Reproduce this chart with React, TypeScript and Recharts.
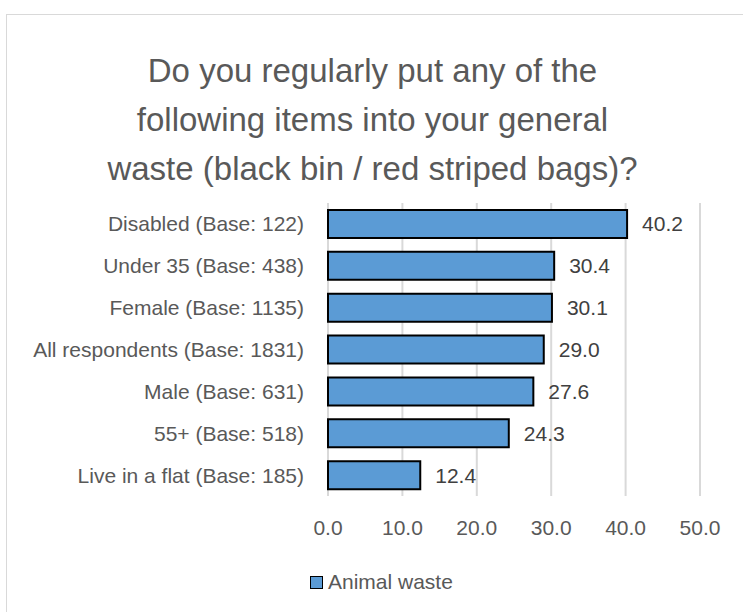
import React from 'react';
import { BarChart, Bar, XAxis, YAxis, CartesianGrid, LabelList } from 'recharts';

const categories = [
  'Disabled (Base: 122)',
  'Under 35 (Base: 438)',
  'Female (Base: 1135)',
  'All respondents (Base: 1831)',
  'Male (Base: 631)',
  '55+ (Base: 518)',
  'Live in a flat (Base: 185)',
];
const animalWaste = [40.2, 30.4, 30.1, 29.0, 27.6, 24.3, 12.4];
const xTicks = [0, 10, 20, 30, 40, 50];
const titleLines = [
  'Do you regularly put any of the',
  'following items into your general',
  'waste (black bin / red striped bags)?',
];

const data = categories.map((name, i) => ({ name, value: animalWaste[i] }));

const FONT = '"Liberation Sans", Arial, sans-serif';
const GREY = '#595959';

export default function App() {
  return (
    <div style={{ position: 'fixed', left: 0, top: 0, width: 743, height: 612, overflow: 'hidden', background: '#fff', fontFamily: FONT }}>
      {/* chart border */}
      <div style={{ position: 'absolute', left: 6, top: 14, width: 760, height: 620, border: '1px solid #d9d9d9' }} />

      {/* title */}
      {titleLines.map((t, i) => (
        <div
          key={i}
          style={{ position: 'absolute', left: 0, width: 745, top: 51 + i * 49, textAlign: 'center', fontSize: 33, color: GREY, lineHeight: '40px', whiteSpace: 'nowrap' }}
        >
          {t}
        </div>
      ))}

      <div style={{ position: 'absolute', left: 0, top: 0 }}>
        <BarChart
          width={743}
          height={612}
          data={data}
          layout="vertical"
          margin={{ top: 203, right: 43, left: 0, bottom: 66 }}
          barCategoryGap={0}
        >
          <CartesianGrid horizontal={false} stroke="#d9d9d9" strokeWidth={2} />
          <XAxis
            type="number"
            domain={[0, 50]}
            ticks={xTicks}
            tickFormatter={(v: number) => v.toFixed(1)}
            axisLine={false}
            tickLine={false}
            tickMargin={18}
            height={50}
            tick={{ fill: GREY, fontSize: 21, fontFamily: FONT }}
          />
          <YAxis
            type="category"
            dataKey="name"
            width={328}
            axisLine={false}
            tickLine={false}
            tickMargin={18}
            interval={0}
            tick={{ fill: GREY, fontSize: 21, fontFamily: FONT }}
          />
          <Bar dataKey="value" fill="#5B9BD5" stroke="#000" strokeWidth={2} barSize={28} isAnimationActive={false}>
            <LabelList
              dataKey="value"
              position="right"
              offset={15}
              formatter={(v: any) => Number(v).toFixed(1)}
              style={{ fill: '#404040', fontSize: 21, fontFamily: FONT }}
            />
          </Bar>
        </BarChart>
      </div>

      {/* legend */}
      <div style={{ position: 'absolute', left: 310, top: 569, height: 26, display: 'flex', alignItems: 'center', color: GREY, fontSize: 21 }}>
        <span style={{ display: 'inline-block', width: 11, height: 11, background: '#5B9BD5', border: '1.5px solid #000', marginRight: 5 }} />
        Animal waste
      </div>
    </div>
  );
}
